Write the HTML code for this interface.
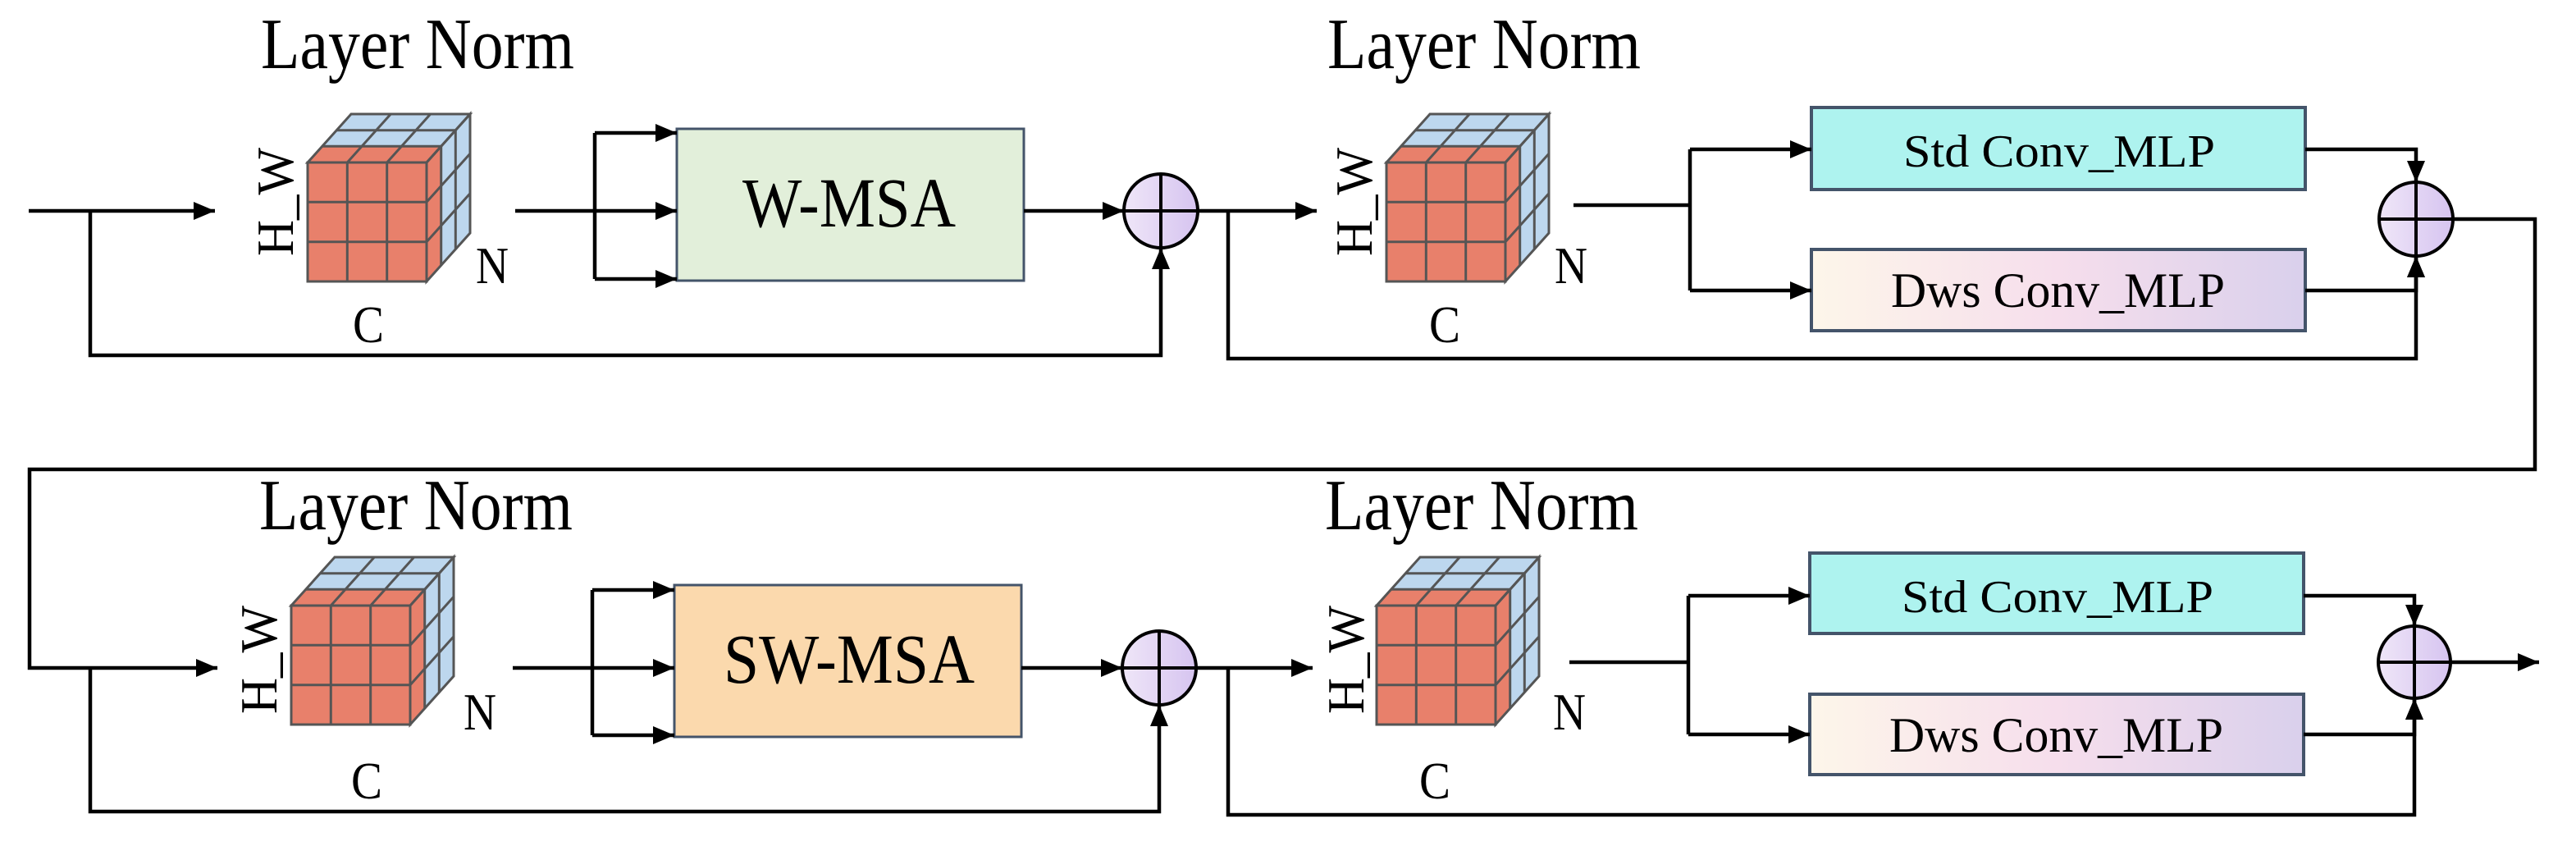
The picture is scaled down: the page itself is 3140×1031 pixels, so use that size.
<!DOCTYPE html>
<html><head><meta charset="utf-8"><style>
html,body{margin:0;padding:0;background:#fff;}
svg{display:block;}
text{font-family:"Liberation Serif","Times New Roman",serif;fill:#000;}
</style></head><body>
<svg width="3140" height="1031" viewBox="0 0 3140 1031" xmlns="http://www.w3.org/2000/svg">
<defs>
<marker id="a" markerUnits="userSpaceOnUse" markerWidth="28" markerHeight="22" refX="26" refY="11" orient="auto">
<path d="M0,0 L26,11 L0,22 Z" fill="#000"/>
</marker>
<linearGradient id="dws" x1="0" x2="1" y1="0" y2="0">
<stop offset="0" stop-color="#fdf6ea"/><stop offset="0.5" stop-color="#f6deec"/><stop offset="1" stop-color="#d9d0ec"/>
</linearGradient>
<linearGradient id="cir" x1="0" x2="1" y1="0" y2="0">
<stop offset="0" stop-color="#efe6f8"/><stop offset="1" stop-color="#d6c4f0"/>
</linearGradient>
<g id="cube">
<rect x="0" y="0" width="145" height="145" fill="#e8806b"/>
<polygon points="0,0 145,0 162.7,-19.7 17.7,-19.7" fill="#e8806b"/>
<polygon points="17.7,-19.7 162.7,-19.7 180.3,-39.3 35.3,-39.3" fill="#bdd7ee"/>
<polygon points="35.3,-39.3 180.3,-39.3 198,-59 53,-59" fill="#bdd7ee"/>
<polygon points="145,0 162.7,-19.7 162.7,125.3 145,145" fill="#e8806b"/>
<polygon points="162.7,-19.7 180.3,-39.3 180.3,105.7 162.7,125.3" fill="#bdd7ee"/>
<polygon points="180.3,-39.3 198,-59 198,86 180.3,105.7" fill="#bdd7ee"/>
<g stroke="#555" stroke-width="3" fill="none">
<rect x="0" y="0" width="145" height="145"/>
<line x1="48.3" y1="0" x2="48.3" y2="145"/><line x1="96.7" y1="0" x2="96.7" y2="145"/>
<line x1="0" y1="48.3" x2="145" y2="48.3"/><line x1="0" y1="96.7" x2="145" y2="96.7"/>
<polygon points="0,0 145,0 198,-59 53,-59"/>
<line x1="17.7" y1="-19.7" x2="162.7" y2="-19.7"/><line x1="35.3" y1="-39.3" x2="180.3" y2="-39.3"/>
<line x1="48.3" y1="0" x2="101.3" y2="-59"/><line x1="96.7" y1="0" x2="149.7" y2="-59"/>
<polygon points="145,0 198,-59 198,86 145,145"/>
<line x1="162.7" y1="-19.7" x2="162.7" y2="125.3"/><line x1="180.3" y1="-39.3" x2="180.3" y2="105.7"/>
<line x1="145" y1="48.3" x2="198" y2="-10.7"/><line x1="145" y1="96.7" x2="198" y2="37.7"/>
</g>
</g>
</defs>

<text x="318" y="83" font-size="88" textLength="382" lengthAdjust="spacingAndGlyphs">Layer Norm</text>
<text x="1618" y="83" font-size="88" textLength="382" lengthAdjust="spacingAndGlyphs">Layer Norm</text>
<text x="316" y="645" font-size="88" textLength="382" lengthAdjust="spacingAndGlyphs">Layer Norm</text>
<text x="1615" y="645" font-size="88" textLength="382" lengthAdjust="spacingAndGlyphs">Layer Norm</text>

<use href="#cube" x="375" y="198"/>
<use href="#cube" x="1690" y="198"/>
<use href="#cube" x="355" y="738"/>
<use href="#cube" x="1678" y="738"/>

<g font-size="64">
<text transform="translate(357,312) rotate(-90)" textLength="132" lengthAdjust="spacingAndGlyphs">H_W</text>
<text transform="translate(1672,312) rotate(-90)" textLength="132" lengthAdjust="spacingAndGlyphs">H_W</text>
<text transform="translate(337,870) rotate(-90)" textLength="132" lengthAdjust="spacingAndGlyphs">H_W</text>
<text transform="translate(1662,870) rotate(-90)" textLength="132" lengthAdjust="spacingAndGlyphs">H_W</text>
<text x="580" y="345" textLength="40" lengthAdjust="spacingAndGlyphs">N</text>
<text x="1895" y="345" textLength="40" lengthAdjust="spacingAndGlyphs">N</text>
<text x="565" y="889" textLength="40" lengthAdjust="spacingAndGlyphs">N</text>
<text x="1893" y="889" textLength="40" lengthAdjust="spacingAndGlyphs">N</text>
<text x="430" y="417" textLength="38" lengthAdjust="spacingAndGlyphs">C</text>
<text x="1742" y="417" textLength="38" lengthAdjust="spacingAndGlyphs">C</text>
<text x="428" y="973" textLength="38" lengthAdjust="spacingAndGlyphs">C</text>
<text x="1730" y="973" textLength="38" lengthAdjust="spacingAndGlyphs">C</text>
</g>

<rect x="825" y="157" width="423" height="185" fill="#e2efda" stroke="#44546a" stroke-width="3"/>
<text x="905" y="276" font-size="86" textLength="260" lengthAdjust="spacingAndGlyphs">W-MSA</text>
<rect x="822" y="713" width="423" height="185" fill="#fbd9ad" stroke="#44546a" stroke-width="3"/>
<text x="882" y="832" font-size="86" textLength="306" lengthAdjust="spacingAndGlyphs">SW-MSA</text>

<rect x="2208" y="131" width="602" height="100" fill="#aef3ef" stroke="#44546a" stroke-width="4"/>
<text x="2320" y="203" font-size="56" textLength="380" lengthAdjust="spacingAndGlyphs">Std Conv_MLP</text>
<rect x="2208" y="304" width="602" height="99" fill="url(#dws)" stroke="#44546a" stroke-width="4"/>
<text x="2305" y="374" font-size="60" textLength="407" lengthAdjust="spacingAndGlyphs">Dws Conv_MLP</text>

<rect x="2206" y="674" width="602" height="98" fill="#aef3ef" stroke="#44546a" stroke-width="4"/>
<text x="2318" y="746" font-size="56" textLength="380" lengthAdjust="spacingAndGlyphs">Std Conv_MLP</text>
<rect x="2206" y="846" width="602" height="98" fill="url(#dws)" stroke="#44546a" stroke-width="4"/>
<text x="2303" y="916" font-size="60" textLength="407" lengthAdjust="spacingAndGlyphs">Dws Conv_MLP</text>

<g stroke="#000" stroke-width="4.5" fill="none">
<path d="M35,257 H262" marker-end="url(#a)"/>
<path d="M110,257 V433 H1415 V302" marker-end="url(#a)"/>
<path d="M628,257 H725 M725,162 V340"/>
<path d="M725,162 H825" marker-end="url(#a)"/>
<path d="M725,257 H825" marker-end="url(#a)"/>
<path d="M725,340 H825" marker-end="url(#a)"/>
<path d="M1248,257 H1370" marker-end="url(#a)"/>
<path d="M1460,257 H1605" marker-end="url(#a)"/>
<path d="M1497,257 V437 H2945 V312" marker-end="url(#a)"/>
<path d="M1918,250 H2060 M2060,182 V354"/>
<path d="M2060,182 H2208" marker-end="url(#a)"/>
<path d="M2060,354 H2208" marker-end="url(#a)"/>
<path d="M2810,182 H2945 V222" marker-end="url(#a)"/>
<path d="M2810,354 H2945 V312" marker-end="url(#a)"/>
<path d="M2990,267 H3090 V572 H36 V814 H265" marker-end="url(#a)"/>

<path d="M110,814 V989 H1413 V859" marker-end="url(#a)"/>
<path d="M625,814 H722 M722,719 V896"/>
<path d="M722,719 H822" marker-end="url(#a)"/>
<path d="M722,814 H822" marker-end="url(#a)"/>
<path d="M722,896 H822" marker-end="url(#a)"/>
<path d="M1245,814 H1368" marker-end="url(#a)"/>
<path d="M1458,814 H1600" marker-end="url(#a)"/>
<path d="M1497,814 V993 H2943 V851" marker-end="url(#a)"/>
<path d="M1913,807 H2058 M2058,726 V895"/>
<path d="M2058,726 H2206" marker-end="url(#a)"/>
<path d="M2058,895 H2206" marker-end="url(#a)"/>
<path d="M2808,726 H2943 V763" marker-end="url(#a)"/>
<path d="M2808,895 H2943 V851" marker-end="url(#a)"/>
<path d="M2988,807 H3095" marker-end="url(#a)"/>
</g>

<g stroke="#000" stroke-width="4">
<circle cx="1415" cy="257" r="45" fill="url(#cir)"/>
<path d="M1370,257 H1460 M1415,212 V302"/>
<circle cx="2945" cy="267" r="45" fill="url(#cir)"/>
<path d="M2900,267 H2990 M2945,222 V312"/>
<circle cx="1413" cy="814" r="45" fill="url(#cir)"/>
<path d="M1368,814 H1458 M1413,769 V859"/>
<circle cx="2943" cy="807" r="44" fill="url(#cir)"/>
<path d="M2899,807 H2987 M2943,763 V851"/>
</g>
</svg>
</body></html>
